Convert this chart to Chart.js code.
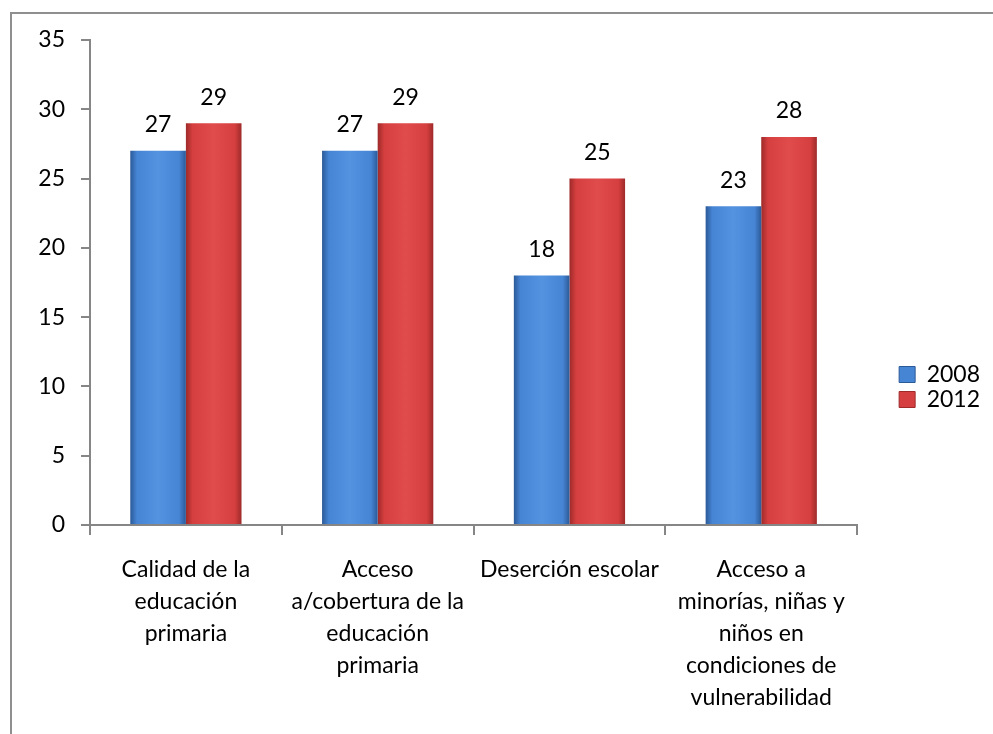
<!DOCTYPE html>
<html lang="es">
<head>
  <meta charset="UTF-8">
  <title>Educación 2008 vs 2012</title>
  <style>
    html, body { margin: 0; padding: 0; background: #fff; }
    .wrapper { position: relative; width: 993px; height: 734px; overflow: hidden; }
    .frame { position: absolute; left: 10px; top: 12px; right: -10px; bottom: -10px;
             border-top: 2px solid #8f8f8f; border-left: 2px solid #8f8f8f; pointer-events: none; }
    canvas { position: absolute; left: 0; top: 0; }
  </style>
</head>
<body>
  <div class="wrapper">
    <canvas id="barChart" width="993" height="734"></canvas>
    <div class="frame"></div>
  </div>

  <script src="https://cdn.jsdelivr.net/npm/chart.js"></script>
  <script>
    const categories = [
      ['Calidad de la', 'educación', 'primaria'],
      ['Acceso', 'a/cobertura de la', 'educación', 'primaria'],
      ['Deserción escolar'],
      ['Acceso a', 'minorías, niñas y', 'niños en', 'condiciones de', 'vulnerabilidad']
    ]
    const seriesNames = ['2008', '2012']
    const values2008 = [27, 27, 18, 23]
    const values2012 = [29, 29, 25, 28]

    const FONT = 'Lato, Carlito, "Open Sans", sans-serif'
    const FS = 23
    const catPct = 0.58

    Chart.defaults.color = '#000'

    // light centre / dark edges, like the bevelled office bars
    const shades = [
      { edge: '#2b5a98', mid: '#4684d4', light: '#5393e0' },
      { edge: '#9e2a2a', mid: '#d63f3f', light: '#e04b4b' }
    ]

    function barFill(ctx) {
      const chart = ctx.chart
      const x = chart.scales.x
      const s = shades[ctx.datasetIndex]
      if (!x || !x.width) return s.mid
      const catW = x.width / categories.length
      const barW = catW * catPct / 2
      const center = x.getPixelForValue(ctx.dataIndex) + (ctx.datasetIndex === 0 ? -barW / 2 : barW / 2)
      const g = chart.ctx.createLinearGradient(center - barW / 2, 0, center + barW / 2, 0)
      g.addColorStop(0, s.edge)
      g.addColorStop(0.12, s.mid)
      g.addColorStop(0.5, s.light)
      g.addColorStop(0.88, s.mid)
      g.addColorStop(1, s.edge)
      return g
    }

    const valueLabels = {
      id: 'valueLabels',
      afterDatasetsDraw(chart) {
        const c = chart.ctx
        c.save()
        c.font = FS + 'px ' + FONT
        c.fillStyle = '#000'
        c.textAlign = 'center'
        c.textBaseline = 'middle'
        chart.data.datasets.forEach((ds, i) => {
          chart.getDatasetMeta(i).data.forEach((bar, j) => {
            c.fillText(ds.data[j], bar.x, bar.y - 26)
          })
        })
        c.restore()
      }
    }

    const chart = new Chart(document.getElementById('barChart'), {
      type: 'bar',
      data: {
        labels: categories,
        datasets: [
          { label: seriesNames[0], data: values2008, backgroundColor: barFill, borderWidth: 0 },
          { label: seriesNames[1], data: values2012, backgroundColor: barFill, borderWidth: 0 }
        ]
      },
      options: {
        responsive: false,
        animation: false,
        categoryPercentage: catPct,
        barPercentage: 1,
        layout: { padding: { left: 0, top: 40, right: 3, bottom: 0 } },
        plugins: {
          legend: {
            position: 'right',
            labels: {
              font: { family: FONT, size: FS },
              color: '#000',
              boxWidth: 16,
              boxHeight: 16,
              padding: 2,
              generateLabels(chart) {
                return chart.data.datasets.map((ds, i) => ({
                  text: ds.label,
                  fillStyle: shades[i].mid,
                  strokeStyle: shades[i].edge,
                  fontColor: '#000',
                  lineWidth: 1,
                  datasetIndex: i
                }))
              }
            }
          },
          tooltip: { enabled: false }
        },
        scales: {
          x: {
            afterFit(scale) { scale.height = 209 },
            grid: { display: true, drawOnChartArea: false, tickLength: 10, color: '#868686', lineWidth: 2 },
            border: { color: '#868686', width: 2 },
            ticks: { font: { family: FONT, size: FS, lineHeight: 1.39 }, color: '#000', padding: 19, maxRotation: 0, autoSkip: false }
          },
          y: {
            min: 0,
            max: 35,
            afterFit(scale) { scale.width = 90 },
            grid: { display: true, drawOnChartArea: false, tickLength: 9, color: '#868686', lineWidth: 2 },
            border: { color: '#868686', width: 2 },
            ticks: { stepSize: 5, font: { family: FONT, size: FS }, color: '#000', padding: 16 }
          },
          // empty spacer between plot and legend
          gap: {
            type: 'linear',
            position: 'right',
            display: true,
            afterFit(scale) { scale.width = 40 },
            grid: { display: false },
            border: { display: false },
            ticks: { display: false }
          }
        }
      },
      plugins: [valueLabels]
    })
  </script>
</body>
</html>
